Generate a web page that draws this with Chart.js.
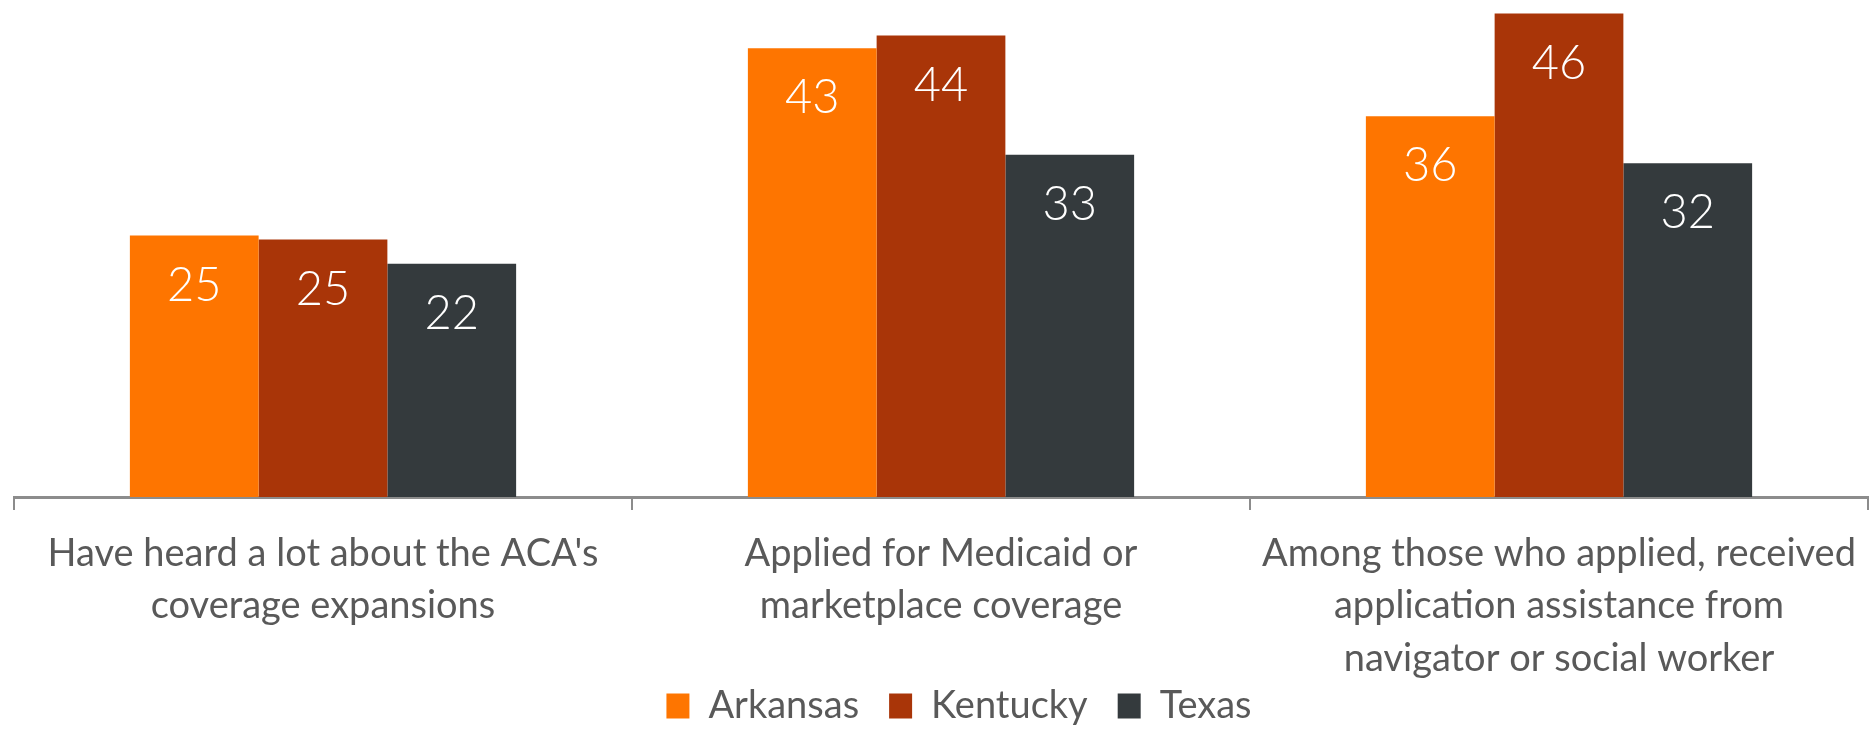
<!DOCTYPE html>
<html>
<head>
<meta charset="utf-8">
<script src="https://cdn.jsdelivr.net/npm/chart.js@4/dist/chart.umd.min.js"></script>
<style>
  html, body { margin: 0; padding: 0; background: #ffffff; }
  #wrap { width: 1874px; height: 735px; position: relative; }
</style>
</head>
<body>
<div id="wrap"><canvas id="c"></canvas></div>
<script>
const categories = [
  ["Have heard a lot about the ACA's", "coverage expansions"],
  ["Applied for Medicaid or", "marketplace coverage"],
  ["Among those who applied, received", "application assistance from", "navigator or social worker"]
];
const seriesNames = ["Arkansas", "Kentucky", "Texas"];
const arkansas = [25.0, 42.9, 36.4];
const kentucky = [24.6, 44.1, 46.2];
const texas = [22.3, 32.7, 31.9];
const seriesColors = ["#FE7500", "#A93508", "#343A3D"];

const FONT = "Lato, 'Open Sans', sans-serif";
const AXIS_BOTTOM = 497;
const CANVAS_H = 735;

const valueLabels = {
  id: 'valueLabels',
  afterDatasetsDraw(chart) {
    const ctx = chart.ctx;
    ctx.save();
    ctx.fillStyle = '#ffffff';
    ctx.font = '300 47px ' + FONT;
    ctx.textAlign = 'center';
    ctx.textBaseline = 'middle';
    chart.data.datasets.forEach((ds, di) => {
      const meta = chart.getDatasetMeta(di);
      meta.data.forEach((bar, i) => {
        ctx.fillText(String(Math.round(ds.data[i])), bar.x, bar.y + 50);
      });
    });
    ctx.restore();
  }
};

// let the category labels use the space down to the legend row (avoid clipping),
// and nudge the legend row to the right like the original
const labelRoom = {
  id: 'labelRoom',
  afterLayout(chart) {
    const x = chart.scales.x;
    const lg = chart.legend;
    if (lg) {
      x.bottom = lg.top + 28;
      lg.left += 18;
      lg.right += 18;
    }
  }
};

new Chart(document.getElementById('c'), {
  type: 'bar',
  data: {
    labels: categories,
    datasets: [
      { label: seriesNames[0], data: arkansas, backgroundColor: seriesColors[0] },
      { label: seriesNames[1], data: kentucky, backgroundColor: seriesColors[1] },
      { label: seriesNames[2], data: texas, backgroundColor: seriesColors[2] }
    ]
  },
  options: {
    responsive: true,
    maintainAspectRatio: false,
    animation: false,
    events: [],
    layout: { padding: { left: 14, right: 6, top: 0, bottom: 0 } },
    datasets: { bar: { categoryPercentage: 0.625, barPercentage: 1.0 } },
    scales: {
      x: {
        offset: true,
        grid: {
          display: true,
          offset: true,
          drawOnChartArea: false,
          drawTicks: true,
          tickLength: 13,
          color: '#8C8C8C',
          lineWidth: 2
        },
        border: { display: true, color: '#8C8C8C', width: 3 },
        ticks: {
          autoSkip: false,
          maxRotation: 0,
          minRotation: 0,
          padding: 17,
          color: '#595959',
          font: { family: FONT, size: 38, weight: '400', lineHeight: 1.385 }
        },
        afterFit(scale) {
          const lg = scale.chart.legend;
          const lh = (lg && lg.height) ? lg.height : 78;
          scale.height = CANVAS_H - AXIS_BOTTOM - lh;
        }
      },
      y: {
        display: false,
        min: 0,
        max: 47.5
      }
    },
    plugins: {
      legend: {
        position: 'bottom',
        labels: {
          boxWidth: 23,
          boxHeight: 25,
          padding: 30,
          color: '#595959',
          font: { family: FONT, size: 38, weight: '400' }
        }
      },
      tooltip: { enabled: false }
    }
  },
  plugins: [valueLabels, labelRoom]
});
</script>
</body>
</html>
